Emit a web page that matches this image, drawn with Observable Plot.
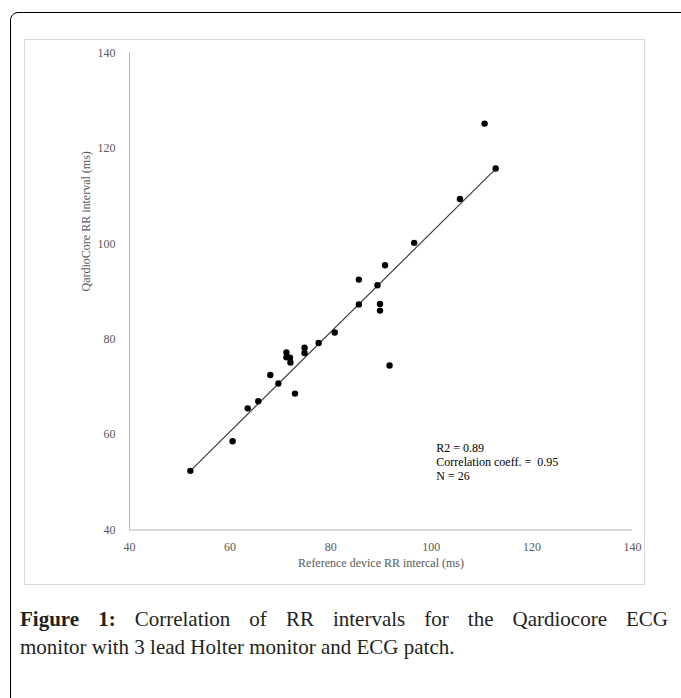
<!DOCTYPE html>
<html><head><meta charset="utf-8">
<script src="https://cdn.jsdelivr.net/npm/d3@7"></script>
<script src="https://cdn.jsdelivr.net/npm/@observablehq/plot@0.6"></script>
<style>
html,body{margin:0;padding:0;background:#fff;}
body{width:681px;height:698px;overflow:hidden;position:relative;font-family:"Liberation Serif",serif;}
#frame{position:absolute;left:10px;top:12px;width:720px;height:720px;border:1.6px solid #000;border-top-left-radius:8px;box-sizing:border-box;}
#box{position:absolute;left:24px;top:39px;width:621px;height:546px;border:1px solid #d9d9d9;box-sizing:border-box;}
#chart{position:absolute;left:0;top:0;}
#caption{position:absolute;left:20px;top:605px;width:648px;font-family:"Liberation Serif",serif;font-size:21px;line-height:28px;color:#231f20;}
#caption .l1{text-align:justify;text-align-last:justify;}
</style></head>
<body>
<div id="frame"></div>
<div id="box"></div>
<div id="chart"></div>
<div id="caption"><div class="l1"><b>Figure 1:</b> Correlation of RR intervals for the Qardiocore ECG</div><div>monitor with 3 lead Holter monitor and ECG patch.</div></div>
<script>
const referenceRR = [52.1, 60.5, 63.5, 65.6, 68.0, 69.6, 71.2, 71.2, 71.9, 72.0, 72.9, 74.8, 74.8, 77.6, 80.8, 85.6, 85.6, 89.3, 89.8, 89.8, 90.8, 91.7, 96.6, 105.7, 110.6, 112.8];
const qardioRR    = [52.4, 58.6, 65.5, 67.0, 72.5, 70.7, 77.2, 76.2, 76.1, 75.1, 68.6, 78.2, 77.1, 79.2, 81.4, 87.3, 92.5, 91.3, 87.4, 86.0, 95.5, 74.5, 100.2, 109.4, 125.2, 115.8];
const trendX = [52.1, 112.8];
const trendY = [52.4, 115.7];
const axisTicks = [40, 60, 80, 100, 120, 140];
const xTitle = "Reference device RR intercal (ms)";
const yTitle = "QardioCore RR interval (ms)";
const statLines = ["R2 = 0.89", "Correlation coeff. =  0.95", "N = 26"];
const statPos = {x: 101, y: 58.6};

const points = referenceRR.map((x, i) => ({x, y: qardioRR[i]}));
const trend = trendX.map((x, i) => ({x, y: trendY[i]}));
const stats = [{x: statPos.x, y: statPos.y, text: statLines.join("\n")}];

const chart = Plot.plot({
  width: 681, height: 600,
  marginLeft: 129, marginRight: 49, marginTop: 52.5, marginBottom: 70.5,
  x: {domain: [40, 140]},
  y: {domain: [40, 140]},
  style: {fontFamily: "'Liberation Serif', serif", fontSize: "12px", background: "transparent", overflow: "visible"},
  marks: [
    Plot.ruleX([40], {stroke: "#b4b4b4", strokeWidth: 1}),
    Plot.ruleY([40], {stroke: "#b4b4b4", strokeWidth: 1}),
    Plot.axisX(axisTicks, {tickSize: 0, tickPadding: 12, fill: "#595959", label: null, fontSize: 12}),
    Plot.axisY(axisTicks, {tickSize: 0, tickPadding: 14, fill: "#595959", label: null, fontSize: 12}),
    Plot.line(trend, {x: "x", y: "y", stroke: "#404040", strokeWidth: 1.2}),
    Plot.dot(points, {x: "x", y: "y", r: 3.2, fill: "#000", stroke: "none"}),
    Plot.text([xTitle], {text: d => d, frameAnchor: "bottom", dy: 36.5, fill: "#595959", fontSize: 12}),
    Plot.text([yTitle], {text: d => d, frameAnchor: "left", dx: -43, rotate: -90, fill: "#595959", fontSize: 12}),
    Plot.text(stats, {x: "x", y: "y", text: "text", textAnchor: "start", lineAnchor: "top", lineHeight: 1.2, fill: "#000", fontSize: 12})
  ]
});
document.getElementById("chart").appendChild(chart);
</script>
</body></html>
